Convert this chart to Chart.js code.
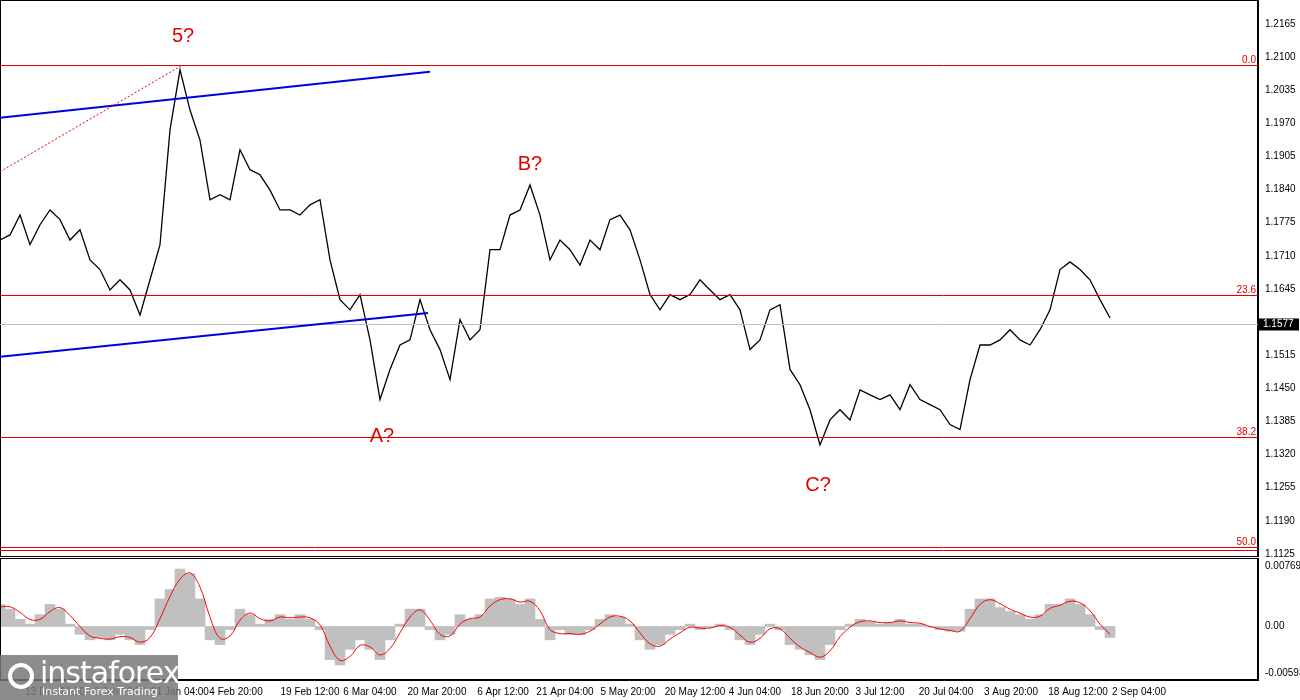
<!DOCTYPE html>
<html><head><meta charset="utf-8">
<script src="https://cdn.jsdelivr.net/npm/chart.js@4.4.1/dist/chart.umd.min.js"></script>
<style>
body{margin:0;background:#fff;font-family:"Liberation Sans",Arial,sans-serif}
#w{position:relative;width:1300px;height:700px}
#c1{position:absolute;left:0;top:0}
#c2{position:absolute;left:0;top:558px}
#logo{position:absolute;left:0;top:655px;width:178px;height:45px;background:rgba(120,120,120,.85);color:#fff;font-family:"DejaVu Sans",sans-serif}
#logo .a{position:absolute;left:40px;top:0;font-size:30px;letter-spacing:-1px}
#logo .b{position:absolute;left:42px;top:30px;font-size:11px}
#logo .g{position:absolute;left:8px;top:8px;width:26px;height:26px;border:4px solid #fff;border-radius:50%;box-sizing:border-box}
</style></head><body>
<div id="w">
<canvas id="c1" width="1300" height="557"></canvas>
<canvas id="c2" width="1300" height="142"></canvas>
<div id="logo"><div class="g"></div><div class="a">instaforex</div><div class="b">Instant Forex Trading</div></div>
</div>
<script>
// price sampled every 10 bars
const price = [1.1741,1.1751,1.1790,1.1732,1.1771,1.1800,1.1781,1.1741,1.1761,1.1702,
1.1683,1.1643,1.1663,1.1643,1.1594,1.1663,1.1732,1.1957,1.2075,1.1996,
1.1937,1.1820,1.1830,1.1820,1.1918,1.1879,1.1869,1.1839,1.1800,1.1800,
1.1790,1.1810,1.1820,1.1702,1.1624,1.1604,1.1634,1.1545,1.1428,1.1487,
1.1535,1.1545,1.1624,1.1565,1.1526,1.1467,1.1585,1.1545,1.1565,1.1722,
1.1722,1.1790,1.1800,1.1849,1.1790,1.1702,1.1741,1.1722,1.1692,1.1741,
1.1722,1.1781,1.1790,1.1761,1.1702,1.1634,1.1604,1.1634,1.1624,1.1634,
1.1663,1.1643,1.1624,1.1634,1.1604,1.1526,1.1545,1.1604,1.1614,1.1487,
1.1457,1.1408,1.1339,1.1388,1.1408,1.1388,1.1447,1.1437,1.1428,1.1437,
1.1408,1.1457,1.1428,1.1418,1.1408,1.1379,1.1369,1.1467,1.1535,1.1535,
1.1545,1.1565,1.1545,1.1535,1.1565,1.1604,1.1683,1.1698,1.1683,1.1663,
1.1624,1.1588];
const osc = [2.8,2.2,0.9,0.3,1.5,2.8,2.2,0.3,-1.0,-1.7,
-1.4,-1.7,-1.0,-1.7,-2.3,-0.4,3.5,4.7,7.3,6.7,
3.5,-1.7,-2.3,-0.4,2.2,1.5,0.3,0.9,1.5,0.9,
1.5,0.9,-0.4,-4.2,-4.9,-2.9,-1.7,-2.9,-4.2,-1.7,
0.3,2.2,2.2,-0.4,-1.7,-1.0,1.5,0.9,1.5,3.5,
3.7,3.5,2.8,3.5,0.9,-1.7,-0.4,-1.0,-1.0,-0.4,
0.9,1.5,1.2,0.3,-1.7,-2.9,-2.3,-1.0,-0.4,0.3,
-0.4,-0.1,0.3,-0.4,-1.7,-2.3,-1.0,0.3,-0.4,-2.3,
-2.9,-3.6,-4.2,-2.3,-0.4,0.3,0.9,0.6,0.3,0.5,
0.9,0.3,0.3,-0.1,-0.4,-0.6,-0.6,2.2,3.5,3.5,
2.4,1.9,1.5,0.9,1.5,2.8,2.8,3.5,2.8,1.5,
-0.4,-1.4];
const signal = [2.5,2.5,1.8,0.9,0.9,1.9,2.4,1.4,0.0,-1.2,
-1.5,-1.6,-1.3,-1.4,-2.0,-1.4,1.0,3.8,6.0,6.8,
5.0,1.2,-1.5,-1.2,0.8,1.7,1.0,0.7,1.2,1.1,
1.2,1.1,0.2,-2.5,-4.3,-3.8,-2.4,-2.6,-3.6,-2.8,
-0.8,1.2,2.1,0.8,-1.0,-1.2,0.3,1.0,1.2,2.6,
3.4,3.5,3.1,3.2,2.0,-0.4,-0.9,-0.9,-1.0,-0.6,
0.3,1.2,1.3,0.7,-0.8,-2.2,-2.5,-1.6,-0.8,-0.1,
-0.2,-0.2,0.1,-0.1,-1.1,-2.0,-1.5,-0.3,-0.3,-1.5,
-2.6,-3.3,-3.9,-3.1,-1.3,-0.1,0.6,0.7,0.5,0.5,
0.7,0.5,0.4,0.0,-0.3,-0.5,-0.6,1.0,2.8,3.4,
2.9,2.2,1.7,1.2,1.3,2.3,2.7,3.2,3.0,2.0,
0.3,-1.0];
const priceTicks = [1.2165,1.2100,1.2035,1.1970,1.1905,1.1840,1.1775,1.1710,1.1645,1.1515,1.1450,1.1385,1.1320,1.1255,1.1190,1.1125];
const dateLabels = ['13 Dec 20:00','6 Jan 12:00','21 Jan 04:00','4 Feb 20:00','19 Feb 12:00','6 Mar 04:00','20 Mar 20:00','6 Apr 12:00','21 Apr 04:00','5 May 20:00','20 May 12:00','4 Jun 04:00','18 Jun 20:00','3 Jul 12:00','20 Jul 04:00','3 Aug 20:00','18 Aug 12:00','2 Sep 04:00'];
const dateBars = [55,120,180,236,310,370,437,503,565,628,695,755,820,880,946,1011,1078,1139];
const fibLevels = [['0.0',1.2085],['23.6',1.1634],['38.2',1.1355],['50.0',1.1132]];
const waveLabels = [['5?',183,1.2140],['A?',382,1.1355],['B?',530,1.1890],['C?',818,1.1260]];
const lastPrice = 1.1577;
const trendUpper = [[0,1.1981],[430,1.2071]];
const trendLower = [[0,1.1512],[428,1.1598]];
const dotted = [[0,1.1875],[183,1.2085]];

const font = {family:'"Liberation Sans", Arial, sans-serif', size:10};
const pts = price.map((v,i)=>({x:i*10,y:v}));
const oscPts = osc.map((v,i)=>({x:i*10,y:v/1000}));
const sigPts = signal.map((v,i)=>({x:i*10,y:v/1000}));
const fitW = ax => { ax.width = 42; ax.paddingTop = 0; ax.paddingBottom = 0; };

const overlay = {
  id:'overlay',
  afterDatasetsDraw(chart){
    const c = chart.ctx, x = chart.scales.x, y = chart.scales.y, a = chart.chartArea;
    c.save();
    c.strokeStyle = '#000'; c.lineWidth = 1;
    c.strokeRect(a.left+0.5, a.top+0.5, a.right-a.left-1, a.bottom-a.top-1);
    fibLevels.forEach(([t,v])=>{
      const py = Math.round(y.getPixelForValue(v))+0.5;
      c.strokeStyle = '#e00000';
      c.beginPath(); c.moveTo(a.left,py); c.lineTo(a.right,py); c.stroke();
      if (t==='50.0'){ c.beginPath(); c.moveTo(a.left,py-3); c.lineTo(a.right,py-3); c.stroke(); }
      c.fillStyle = '#e00000'; c.font = '10px "Liberation Sans", Arial'; c.textAlign='right'; c.textBaseline='bottom';
      c.fillText(t, a.right-2, py-(t==='50.0'?3:0));
    });
    const ly = Math.round(y.getPixelForValue(lastPrice))+0.5;
    c.strokeStyle = '#c0c0c0';
    c.beginPath(); c.moveTo(a.left,ly); c.lineTo(a.right,ly); c.stroke();
    c.fillStyle='#000'; c.fillRect(a.right+1, ly-6, 40, 12);
    c.fillStyle='#fff'; c.textAlign='left'; c.textBaseline='middle'; c.fillText(lastPrice.toFixed(4), a.right+5, ly);
    const seg = (p, col, w, dash) => {
      c.strokeStyle = col; c.lineWidth = w; c.setLineDash(dash);
      c.beginPath(); c.moveTo(x.getPixelForValue(p[0][0]), y.getPixelForValue(p[0][1]));
      c.lineTo(x.getPixelForValue(p[1][0]), y.getPixelForValue(p[1][1])); c.stroke();
    };
    seg(trendUpper,'#0000e0',2,[]); seg(trendLower,'#0000e0',2,[]); seg(dotted,'#e00000',1,[2,2]);
    c.setLineDash([]);
    c.fillStyle='#e00000'; c.font='20px Arial, "Liberation Sans"'; c.textAlign='center'; c.textBaseline='middle';
    waveLabels.forEach(([t,bx,v])=>c.fillText(t, x.getPixelForValue(bx), y.getPixelForValue(v)));
    c.restore();
  }
};

new Chart(document.getElementById('c1'), {
  type:'line',
  data:{datasets:[{data:pts, borderColor:'#000', borderWidth:1.3, pointRadius:0, tension:0}]},
  options:{
    responsive:false, animation:false, events:[],
    layout:{padding:{top:0,bottom:0,left:0,right:0}},
    plugins:{legend:{display:false}, tooltip:{enabled:false}},
    scales:{
      x:{type:'linear', min:0, max:1258, display:false},
      y:{position:'right', min:1.1119, max:1.2212, afterFit:fitW,
        afterBuildTicks:ax=>{ax.ticks = priceTicks.map(v=>({value:v}));},
        ticks:{font, color:'#000', padding:3, callback:v=>v.toFixed(4)},
        grid:{display:false, tickLength:4}, border:{color:'#000'}}
    }
  },
  plugins:[overlay]
});

const frame = {
  id:'frame',
  afterDatasetsDraw(chart){
    const c = chart.ctx, a = chart.chartArea;
    c.save(); c.strokeStyle='#000'; c.lineWidth=1;
    c.strokeRect(a.left+0.5, a.top+0.5, a.right-a.left-1, a.bottom-a.top-1);
    c.restore();
  }
};

new Chart(document.getElementById('c2'), {
  data:{datasets:[
    {type:'line', data:sigPts, borderColor:'#ff0000', borderWidth:1, pointRadius:0, tension:0.4, order:0},
    {type:'bar', data:oscPts, backgroundColor:'#c0c0c0', barPercentage:1, categoryPercentage:1, order:1}
  ]},
  options:{
    responsive:false, animation:false, events:[],
    layout:{padding:0},
    plugins:{legend:{display:false}, tooltip:{enabled:false}},
    scales:{
      x:{type:'linear', min:0, max:1258, offset:false,
        afterBuildTicks:ax=>{ax.ticks = dateBars.map(v=>({value:v}));},
        ticks:{font, color:'#000', maxRotation:0, autoSkip:false, padding:2,
          callback:(v)=>dateLabels[dateBars.indexOf(v)]},
        grid:{display:false, tickLength:4}, border:{color:'#000'}},
      y:{position:'right', min:-0.0068, max:0.0087, afterFit:fitW,
        afterBuildTicks:ax=>{ax.ticks = [0.00769,0,-0.00593].map(v=>({value:v}));},
        ticks:{font, color:'#000', padding:3, callback:v=>v===0?'0.00':v.toFixed(5)},
        grid:{display:false, tickLength:4}, border:{color:'#000'}}
    }
  },
  plugins:[frame]
});
</script>
</body></html>
